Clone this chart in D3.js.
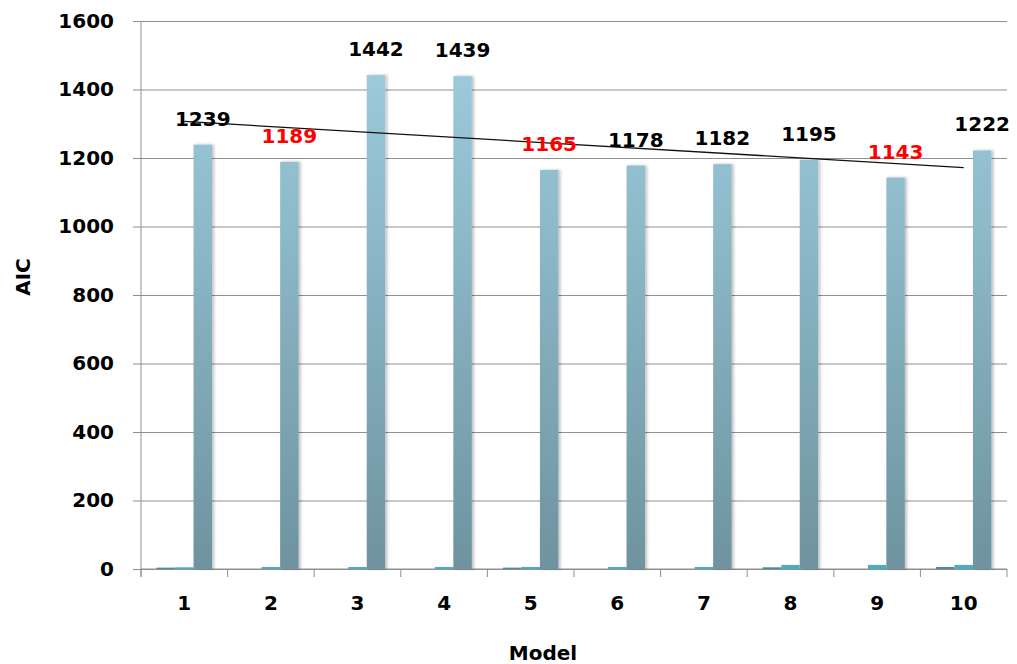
<!DOCTYPE html>
<html>
<head>
<meta charset="utf-8">
<script src="https://cdn.jsdelivr.net/npm/d3@7"></script>
<style>
  html, body { margin: 0; padding: 0; background: #ffffff; }
  svg { display: block; }
  text { font-family: "DejaVu Sans", Verdana, sans-serif; font-weight: bold; }
</style>
</head>
<body>
<svg id="chart" width="1017" height="664"></svg>
<script>
// Model numbers on the x axis
const models = ["1", "2", "3", "4", "5", "6", "7", "8", "9", "10"];
// Two small auxiliary series drawn left of the AIC bars
const seriesA = [4, 0, 0, 0, 4, 0, 0, 5, 0, 6];
const seriesB = [5, 6, 6, 6, 6, 6, 6, 12, 12, 12];
// AIC per model
const aic = [1239, 1189, 1442, 1439, 1165, 1178, 1182, 1195, 1143, 1222];
// Labels shown in red
const redLabels = ["2", "5", "9"];
// y axis ticks
const yTicks = [0, 200, 400, 600, 800, 1000, 1200, 1400, 1600];

const svg = d3.select("#chart");
const plotLeft = 141, plotRight = 1007, plotTop = 21, plotBottom = 569;
const fs = 20;

const y = d3.scaleLinear().domain([0, 1600]).range([plotBottom, plotTop]);
const x0 = d3.scaleBand().domain(models).range([plotLeft, plotRight]).paddingInner(0).paddingOuter(0);
const bw = x0.bandwidth();
const seriesNames = ["a", "b", "aic"];
const x1 = d3.scaleBand().domain(seriesNames).range([bw * 0.18, bw * 0.82]).padding(0);

const defs = svg.append("defs");
const grad = defs.append("linearGradient")
  .attr("id", "aicGrad")
  .attr("gradientUnits", "userSpaceOnUse")
  .attr("x1", 0).attr("x2", 0).attr("y1", plotTop).attr("y2", plotBottom);
grad.append("stop").attr("offset", "0%").attr("stop-color", "#a0d0e2");
grad.append("stop").attr("offset", "100%").attr("stop-color", "#6e939f");

const shadow = defs.append("filter").attr("id", "barShadow")
  .attr("x", "-20%").attr("y", "-5%").attr("width", "160%").attr("height", "110%");
shadow.append("feDropShadow").attr("dx", 2).attr("dy", 0)
  .attr("stdDeviation", 1.5).attr("flood-color", "#000").attr("flood-opacity", 0.25);

// Horizontal gridlines with outward ticks
const yAxis = d3.axisLeft(y).tickValues(yTicks).tickFormat(d3.format("d"))
  .tickSize(-(plotRight - plotLeft)).tickPadding(27).tickSizeOuter(0);
const gy = svg.append("g").attr("transform", `translate(${plotLeft},0)`).call(yAxis);
gy.select(".domain").remove();
gy.selectAll(".tick line").attr("stroke", "#8f8f8f").attr("x1", -8);
gy.selectAll(".tick text").attr("font-size", fs).attr("fill", "#000")
  .attr("font-family", "DejaVu Sans").attr("font-weight", "bold");

// Vertical axis line
svg.append("line").attr("x1", plotLeft).attr("x2", plotLeft).attr("y1", plotTop).attr("y2", plotBottom + 8)
  .attr("stroke", "#8f8f8f");

// x axis with category boundary ticks
svg.append("line").attr("x1", plotLeft).attr("x2", plotRight).attr("y1", plotBottom).attr("y2", plotBottom)
  .attr("stroke", "#8f8f8f");
const bounds = models.map(m => x0(m)).concat([plotRight]);
svg.selectAll(".xtick").data(bounds).enter().append("line")
  .attr("x1", d => d).attr("x2", d => d).attr("y1", plotBottom).attr("y2", plotBottom + 8)
  .attr("stroke", "#8f8f8f");
svg.selectAll(".xlabel").data(models).enter().append("text")
  .attr("x", d => x0(d) + bw / 2).attr("y", 610)
  .attr("text-anchor", "middle").attr("font-size", fs).attr("fill", "#000")
  .text(d => d);

// Bars
const rows = models.map((m, i) => ({ m, a: seriesA[i], b: seriesB[i], aic: aic[i] }));
const colors = { a: "#4a8ba0", b: "#4bacc6", aic: "url(#aicGrad)" };
const groups = svg.selectAll(".grp").data(rows).enter().append("g")
  .attr("transform", d => `translate(${x0(d.m)},0)`);
groups.selectAll("rect").data(d => seriesNames.map(k => ({ k, v: d[k] })))
  .enter().append("rect")
  .attr("x", d => x1(d.k)).attr("width", x1.bandwidth())
  .attr("y", d => y(d.v)).attr("height", d => y(0) - y(d.v))
  .attr("fill", d => colors[d.k])
  .attr("filter", d => d.k === "aic" ? "url(#barShadow)" : null);

// Linear trend of the AIC series
const xs = models.map((m, i) => i + 1);
const mx = d3.mean(xs), my = d3.mean(aic);
const slope = d3.sum(xs.map((xv, i) => (xv - mx) * (aic[i] - my))) / d3.sum(xs.map(xv => (xv - mx) ** 2));
const icpt = my - slope * mx;
svg.append("line")
  .attr("x1", x0(models[0]) + bw / 2).attr("y1", y(icpt + slope * 1))
  .attr("x2", x0(models[9]) + bw / 2).attr("y2", y(icpt + slope * 10))
  .attr("stroke", "#111").attr("stroke-width", 1.3);

// Value labels
svg.selectAll(".val").data(rows).enter().append("text")
  .attr("x", d => x0(d.m) + x1("aic") + x1.bandwidth() / 2)
  .attr("y", d => y(d.aic) - 19)
  .attr("text-anchor", "middle").attr("font-size", fs)
  .attr("fill", d => redLabels.includes(d.m) ? "#ff0000" : "#000")
  .text(d => d.aic);

// Axis titles
svg.append("text").attr("x", 543).attr("y", 660).attr("text-anchor", "middle")
  .attr("font-size", fs).attr("fill", "#000").text("Model");
svg.append("text").attr("transform", "translate(30,277) rotate(-90)")
  .attr("text-anchor", "middle").attr("font-size", fs).attr("fill", "#000").text("AIC");
</script>
</body>
</html>
